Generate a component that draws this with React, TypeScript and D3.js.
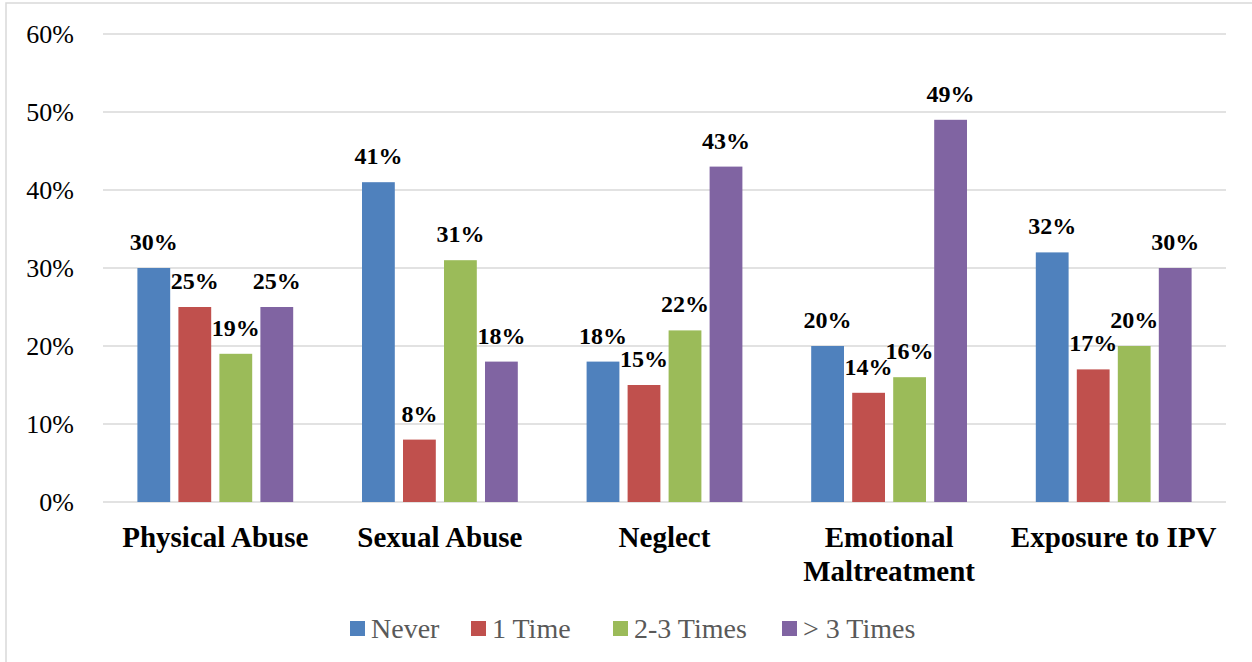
import React from 'react';
import * as d3 from 'd3';

// categories and series
const categories = ['Physical Abuse', 'Sexual Abuse', 'Neglect', 'Emotional Maltreatment', 'Exposure to IPV'];
const seriesNames = ['Never', '1 Time', '2-3 Times', '> 3 Times'];
const never = [30, 41, 18, 20, 32];
const oneTime = [25, 8, 15, 14, 17];
const twoThree = [19, 31, 22, 16, 20];
const moreThree = [25, 18, 43, 49, 30];
const yTicks = [0, 10, 20, 30, 40, 50, 60];

const colors = ['#4f81bd', '#c0504d', '#9bbb59', '#8064a2'];
const seriesValues = [never, oneTime, twoThree, moreThree];

const W = 1252;
const H = 662;
const margin = {top: 34, right: 26, bottom: 160, left: 103};
const serif = {fontFamily: "'Liberation Serif'"};

const App: React.FC = () => {
  const x0 = d3
    .scaleBand<string>()
    .domain(categories)
    .range([margin.left, W - margin.right])
    .paddingInner(0)
    .paddingOuter(0);
  const groupW = x0.bandwidth();
  const x1 = d3
    .scaleBand<string>()
    .domain(seriesNames)
    .range([34.4, groupW - 34.4])
    .paddingInner(0.2);
  const y = d3.scaleLinear().domain([0, 60]).range([H - margin.bottom, margin.top]);

  // legend layout
  const legendX = [350, 471, 613, 782];

  return (
    <svg width={W} height={H} style={{position: 'absolute', left: 0, top: 0, background: '#fff'}}>
      <rect x={6} y={3} width={W} height={H} fill="#fff" stroke="#d9d9d9" strokeWidth={1.5} />
      {yTicks.map((t) => (
        <g key={t}>
          <line x1={margin.left} x2={W - margin.right} y1={y(t)} y2={y(t)} stroke="#d9d9d9" strokeWidth={1.5} />
          <text x={74} y={y(t)} dy="0.35em" textAnchor="end" style={serif} fontSize={26} fill="#000">
            {t + '%'}
          </text>
        </g>
      ))}
      {categories.map((c, ci) => (
        <g key={c} transform={`translate(${x0(c)},0)`}>
          {seriesNames.map((s, si) => {
            const v = seriesValues[si][ci];
            const bx = x1(s) as number;
            return (
              <g key={s}>
                <rect
                  x={bx}
                  y={y(v)}
                  width={x1.bandwidth()}
                  height={y(0) - y(v)}
                  fill={colors[si]}
                />
                <text
                  x={bx + x1.bandwidth() / 2}
                  y={y(v) - 18}
                  textAnchor="middle"
                  style={serif}
                  fontWeight="bold"
                  fontSize={24}
                  fill="#000"
                >
                  {v + '%'}
                </text>
              </g>
            );
          })}
        </g>
      ))}
      {categories.map((c) => {
        const words = c === 'Emotional Maltreatment' ? ['Emotional', 'Maltreatment'] : [c];
        return (
          <text
            key={c}
            x={(x0(c) as number) + groupW / 2}
            y={547}
            textAnchor="middle"
            style={serif}
            fontWeight="bold"
            fontSize={29}
            fill="#000"
          >
            {words.map((w, i) => (
              <tspan key={w} x={(x0(c) as number) + groupW / 2} dy={i === 0 ? 0 : 34}>
                {w}
              </tspan>
            ))}
          </text>
        );
      })}
      {seriesNames.map((s, i) => (
        <g key={s} transform={`translate(${legendX[i]},0)`}>
          <rect x={0} y={621} width={15} height={15} fill={colors[i]} />
          <text x={21} y={638} style={serif} fontSize={28} fill="#595959">
            {s}
          </text>
        </g>
      ))}
    </svg>
  );
};

export default App;
